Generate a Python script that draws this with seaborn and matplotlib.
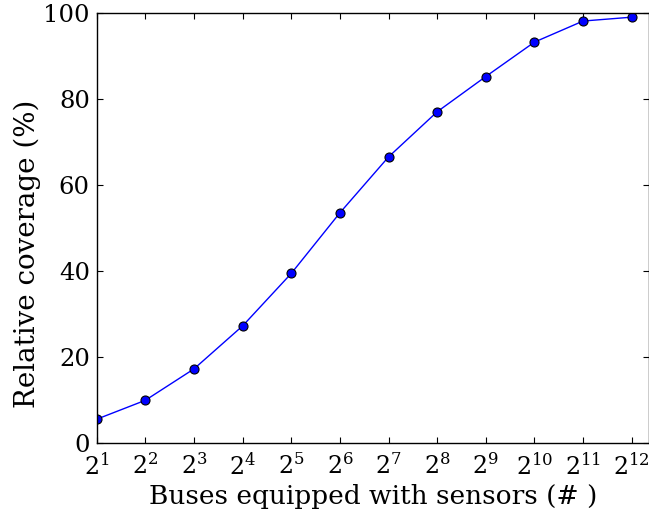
import matplotlib
matplotlib.use("Agg")
import matplotlib.pyplot as plt
import seaborn as sns
import pandas as pd

exponents = [1, 2, 3, 4, 5, 6, 7, 8, 9, 10, 11, 12]
coverage = [5.6, 10.0, 17.3, 27.3, 39.5, 53.6, 66.6, 77.1, 85.3, 93.3, 98.2, 99.1]
buses = [2 ** e for e in exponents]
tick_labels = [r"$2^{%d}$" % e for e in exponents]

df = pd.DataFrame({"buses": buses, "coverage": coverage})

sns.set_style("ticks")
plt.rcParams["font.family"] = ["DejaVu Serif"]
plt.rcParams["mathtext.fontset"] = "dejavuserif"
plt.rcParams["text.color"] = "black"
plt.rcParams["axes.labelcolor"] = "black"
plt.rcParams["xtick.color"] = "black"
plt.rcParams["ytick.color"] = "black"
plt.rcParams["axes.edgecolor"] = "black"

fig = plt.figure(figsize=(6.49, 5.15), dpi=100)
ax = fig.add_axes([96.7 / 649, 1 - 443.3 / 515, 1 - 96.7 / 649, (443.3 - 13.3) / 515])

sns.lineplot(data=df, x="buses", y="coverage", ax=ax, color="blue", linewidth=1,
             marker="o", markersize=6.5, markeredgecolor="black", markeredgewidth=0.8)

ax.set_xscale("log", base=2)
ax.set_xlim(2, 2 ** 12.355)
ax.set_ylim(0, 100)
ax.set_xticks(buses)
ax.set_xticklabels(tick_labels)
ax.minorticks_off()
ax.set_yticks([0, 20, 40, 60, 80, 100])
ax.tick_params(direction="in", top=True, right=True, length=4, width=0.8)
ax.tick_params(axis="x", pad=7, labelsize=17)
ax.tick_params(axis="y", pad=5, labelsize=17.5)
for s in ax.spines.values():
    s.set_linewidth(1.0)
ax.set_xlabel("Buses equipped with sensors (# )", fontsize=19, labelpad=3)
ax.set_ylabel("Relative coverage (%)", fontsize=20)
ax.yaxis.set_label_coords(-0.10, 0.44)

fig.savefig("out.png", dpi=100)
